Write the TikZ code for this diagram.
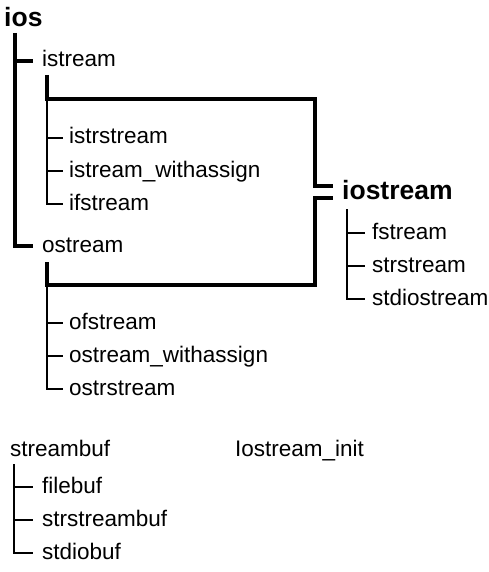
\documentclass[tikz,border=0pt]{standalone}
\usepackage{fontspec}
\setmainfont{Liberation Sans}
\begin{document}
\begin{tikzpicture}[x=1pt,y=-1pt,
  lbl/.style={anchor=base west, inner ysep=0pt, inner xsep=6pt, font=\fontsize{22.5}{24}\selectfont},
  hd/.style={anchor=base west, inner ysep=0pt, inner xsep=9pt, font=\bfseries\fontsize{26.5}{28}\selectfont},
  heavy/.style={line width=3.3pt},
  light/.style={line width=1.3pt}]
\useasboundingbox (0,0) rectangle (488,572);

% nodes (baseline = visual centre + 6)
\node[hd] (ios) at (-5,27) {ios};
\node[lbl,inner xsep=9pt] (istream) at (33,67) {istream};
\node[lbl] (istrstream) at (63,144) {istrstream};
\node[lbl] (iwa) at (63,177) {istream\_withassign};
\node[lbl] (ifstream) at (63,210) {ifstream};
\node[lbl,inner xsep=9pt] (ostream) at (33,252) {ostream};
\node[lbl] (ofstream) at (63,329) {ofstream};
\node[lbl] (owa) at (63,362) {ostream\_withassign};
\node[lbl] (ostrstream) at (63,395) {ostrstream};
\node[hd] (iostream) at (333,199) {iostream};
\node[lbl,inner xsep=7pt] (fstream) at (365,239) {fstream};
\node[lbl,inner xsep=7pt] (strstream) at (365,272) {strstream};
\node[lbl,inner xsep=7pt] (stdiostream) at (365,305) {stdiostream};
\node[lbl,inner xsep=0pt] (streambuf) at (10,456) {streambuf};
\node[lbl,inner xsep=9pt] (filebuf) at (33,493) {filebuf};
\node[lbl,inner xsep=9pt] (strstreambuf) at (33,526) {strstreambuf};
\node[lbl,inner xsep=9pt] (stdiobuf) at (33,559) {stdiobuf};
\node[lbl,inner xsep=0pt] (init) at (235,456) {Iostream\_init};

% tick points
\foreach \n in {istream,istrstream,iwa,ifstream,ostream,ofstream,owa,ostrstream,fstream,strstream,stdiostream,filebuf,strstreambuf,stdiobuf}
  \coordinate (\n T) at ([yshift=6pt]\n.base west);
\coordinate (iosU) at ([yshift=13pt]iostream.base west);
\coordinate (iosL) at ([yshift=1pt]iostream.base west);

% coordinates
\coordinate (iosv) at (15,33);
\coordinate (istub) at (47,75);
\coordinate (brtl) at (47,99);
\coordinate (brtr) at (315,99);
\coordinate (ostub) at (47,262);
\coordinate (brbl) at (47,285);
\coordinate (brbr) at (315,285);
\coordinate (iov) at (347,209);
\coordinate (sbv) at (14,464);

% ios trunk
\draw[heavy] (iosv) |- (ostreamT);
\draw[heavy] (iosv |- istreamT) -- (istreamT);

% bracket to iostream
\draw[heavy] (istub) -- (brtl) -- (brtr) |- (iosU);
\draw[heavy] (ostub) -- (brbl) -- (brbr) |- (iosL);

% istream children
\draw[light] (brtl) |- (istrstreamT);
\draw[light] (brtl) |- (iwaT);
\draw[light] (brtl) |- (ifstreamT);

% ostream children
\draw[light] (brbl) |- (ofstreamT);
\draw[light] (brbl) |- (owaT);
\draw[light] (brbl) |- (ostrstreamT);

% iostream children
\draw[light] (iov) |- (fstreamT);
\draw[light] (iov) |- (strstreamT);
\draw[light] (iov) |- (stdiostreamT);

% streambuf children
\draw[light] (sbv) |- (filebufT);
\draw[light] (sbv) |- (strstreambufT);
\draw[light] (sbv) |- (stdiobufT);
\end{tikzpicture}
\end{document}
